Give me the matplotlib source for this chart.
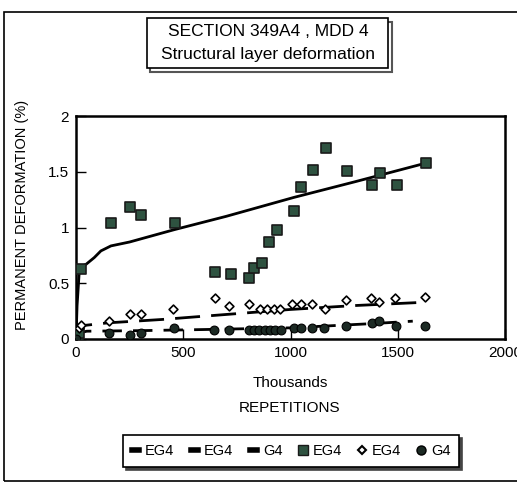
import matplotlib
matplotlib.use('Agg')
from matplotlib import pyplot as plt
from matplotlib.patches import Rectangle
from matplotlib.lines import Line2D

plt.rcParams['font.family'] = ['Liberation Sans Narrow', 'Liberation Sans', 'DejaVu Sans']

# EG4 upper layer (squares) - thousands of repetitions / % deformation
sq_x = [0, 8, 15, 23, 163, 253, 305, 460, 647, 721, 806, 829, 868, 902, 935,
        1016, 1047, 1104, 1164, 1264, 1380, 1415, 1496, 1631]
sq_y = [0.0, 0.03, 0.05, 0.63, 1.04, 1.18, 1.11, 1.04, 0.60, 0.58, 0.55, 0.64,
        0.68, 0.87, 0.98, 1.15, 1.36, 1.52, 1.71, 1.51, 1.38, 1.49, 1.38, 1.58]

# EG4 lower layer (diamonds)
dm_x = [16, 23, 155, 251, 302, 454, 647, 713, 806, 860, 891, 922, 953,
        1008, 1047, 1101, 1160, 1259, 1377, 1411, 1488, 1628]
dm_y = [0.10, 0.13, 0.16, 0.22, 0.22, 0.27, 0.37, 0.30, 0.31, 0.27, 0.27, 0.27,
        0.27, 0.31, 0.31, 0.31, 0.27, 0.35, 0.37, 0.33, 0.37, 0.38]

# G4 (circles)
ci_x = [0, 155, 251, 302, 457, 643, 713, 806, 830, 855, 880, 905, 930, 955,
        1016, 1047, 1101, 1155, 1259, 1380, 1411, 1493, 1628]
ci_y = [0.0, 0.05, 0.04, 0.05, 0.10, 0.08, 0.08, 0.08, 0.08, 0.08, 0.08, 0.08,
        0.08, 0.08, 0.10, 0.10, 0.10, 0.10, 0.12, 0.14, 0.16, 0.12, 0.12]

# fitted curves
fit1_x = [0, 5, 15, 25, 47, 85, 116, 163, 250, 457, 700, 1016, 1300, 1636]
fit1_y = [0.0, 0.30, 0.60, 0.65, 0.67, 0.73, 0.79, 0.835, 0.87, 0.98, 1.10, 1.27, 1.41, 1.58]
fit2_x = [0, 10, 30, 150, 400, 700, 1000, 1300, 1630]
fit2_y = [0.0, 0.08, 0.12, 0.145, 0.175, 0.22, 0.265, 0.30, 0.33]
fit3_x = [0, 10, 50, 300, 600, 1000, 1200, 1400, 1570]
fit3_y = [0.0, 0.05, 0.07, 0.075, 0.085, 0.10, 0.12, 0.14, 0.16]

W, H = 517, 484
fig = plt.figure(figsize=(W / 100, H / 100), dpi=100)


def px_rect(x0, y0, x1, y1, **kw):
    # rectangle given in image pixels (top-left origin)
    return Rectangle((x0 / W, 1 - y1 / H), (x1 - x0) / W, (y1 - y0) / H,
                     transform=fig.transFigure, fill=False, **kw)


# outer frame
fig.patches.append(px_rect(4, 12, 530, 481, lw=1.2, edgecolor='black'))

ax = fig.add_axes([76 / W, 1 - 339 / H, (505 - 76) / W, (339 - 116) / H])

ax.plot(fit1_x, fit1_y, color='black', lw=2.0, zorder=2)
ax.plot(fit2_x, fit2_y, color='black', lw=2.0, ls=(0, (9, 4)), zorder=2)
ax.plot(fit3_x, fit3_y, color='black', lw=2.0, ls=(0, (7, 4)), zorder=2)

ax.scatter(sq_x, sq_y, marker='s', s=55, color='#2e5240', edgecolors='#1a1a1a',
           linewidths=1.2, zorder=3)
ax.scatter(dm_x, dm_y, marker='D', s=20, color='white', edgecolors='black',
           linewidths=1.2, zorder=3)
ax.scatter(ci_x, ci_y, marker='o', s=40, color='#1c2a24', edgecolors='black',
           linewidths=0.8, zorder=3)

ax.set_xlim(0, 2000)
ax.set_ylim(0, 2)
ax.set_xticks([0, 500, 1000, 1500, 2000])
ax.set_xticklabels(['0', '500', '1000', '1500', '2000'])
ax.set_yticks([0, 0.5, 1, 1.5, 2])
ax.set_yticklabels(['0', '0.5', '1', '1.5', '2'])
ax.tick_params(direction='in', length=7, width=1, labelsize=11, pad=5)
for s in ax.spines.values():
    s.set_linewidth(1.8)

fig.text(290 / W, 1 - 383 / H, 'Thousands', ha='center', va='center', fontsize=11)
fig.text(290 / W, 1 - 408 / H, 'REPETITIONS', ha='center', va='center', fontsize=11)
fig.text(22 / W, 1 - 215 / H, 'PERMANENT DEFORMATION (%)', ha='center', va='center',
         rotation=90, fontsize=10.5)

# title box with shadow
fig.patches.append(px_rect(150, 22, 392, 72, lw=1.5, edgecolor='#555555'))
fig.patches.append(px_rect(147, 18, 388, 68, lw=1.2, edgecolor='black'))
fig.patches[-1].set_facecolor('white')
fig.patches[-1].set_fill(True)
fig.text(268 / W, 1 - 32 / H, 'SECTION 349A4 , MDD 4', ha='center', va='center', fontsize=12.5)
fig.text(268 / W, 1 - 54 / H, 'Structural layer deformation', ha='center', va='center', fontsize=12.5)

# legend
handles = [
    Line2D([], [], color='black', lw=4),
    Line2D([], [], color='black', lw=4),
    Line2D([], [], color='black', lw=4),
    Line2D([], [], ls='none', marker='s', ms=7, color='#2e5240', mec='#1a1a1a'),
    Line2D([], [], ls='none', marker='D', ms=4.5, color='white', mec='black', mew=1.5),
    Line2D([], [], ls='none', marker='o', ms=6.5, color='#1c2a24', mec='black'),
]
labels = ['EG4', 'EG4', 'G4', 'EG4', 'EG4', 'G4']
leg = fig.legend(handles, labels, ncol=6, loc='center',
                 bbox_to_anchor=(291 / W, 1 - 451 / H), frameon=True, fancybox=False,
                 edgecolor='black', handlelength=0.5, handletextpad=0.4,
                 columnspacing=1.15, fontsize=10.5, borderpad=0.6,
                 shadow={'color': '#444444', 'alpha': 1})
leg.get_frame().set_linewidth(1.2)

fig.savefig('out.png', dpi=100)
